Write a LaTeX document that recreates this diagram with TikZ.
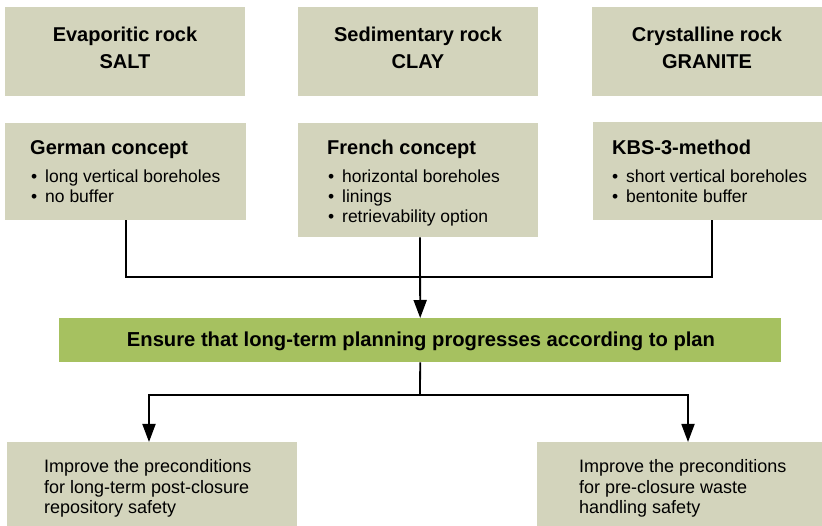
\documentclass[tikz,border=0pt]{standalone}
\usepackage{fontspec}
\setmainfont{Liberation Sans}
\usetikzlibrary{arrows.meta}
\definecolor{boxgray}{HTML}{D3D4BC}
\definecolor{boxgreen}{HTML}{A6C160}
\begin{document}
\begin{tikzpicture}[x=1pt,y=-1pt,
  box/.style={fill=boxgray, draw=none, inner sep=0pt, anchor=north west},
  goalbox/.style={fill=boxgreen, draw=none, inner sep=0pt, anchor=north west},
  title/.style={font=\fontsize{20}{27}\selectfont\bfseries, align=center, anchor=base, inner sep=0pt},
  head/.style={font=\fontsize{20}{24}\selectfont\bfseries, anchor=base west, inner sep=0pt},
  item/.style={font=\fontsize{17.5}{20}\selectfont, anchor=base west, inner sep=0pt},
  plain/.style={font=\fontsize{18}{21}\selectfont, anchor=base west, inner sep=0pt},
  link/.style={line width=1.8pt, black},
  arr/.style={link, -{Triangle[length=18pt,width=13pt]}}]
\useasboundingbox (0,0) rectangle (822,526);
\newcommand{\bul}{\makebox[14pt][l]{•}}
% top row
\node[box, minimum width=240pt, minimum height=89pt] (r1) at (5,7) {};
\node[box, minimum width=240pt, minimum height=89pt] (r2) at (298,7) {};
\node[box, minimum width=230pt, minimum height=89pt] (r3) at (592,7) {};
\node[title] (r1a) at (125,42) {Evaporitic rock};
\node[title] (r1b) at (125,69) {SALT};
\node[title] (r2a) at (418,42) {Sedimentary rock};
\node[title] (r2b) at (418,69) {CLAY};
\node[title] (r3a) at (707,42) {Crystalline rock};
\node[title] (r3b) at (707,69) {GRANITE};
% second row
\node[box, minimum width=241pt, minimum height=97pt] (g1) at (5,123) {};
\node[box, minimum width=240pt, minimum height=114pt] (g2) at (298,123) {};
\node[box, minimum width=229pt, minimum height=98pt] (g3) at (593,122) {};
\node[head] (g1h) at (30,155) {German concept};
\node[item] (g1i) at (31,183) {\bul long vertical boreholes};
\node[item] (g1j) at (31,203) {\bul no buffer};
\node[head] (g2h) at (327,155) {French concept};
\node[item] (g2i) at (328,183) {\bul horizontal boreholes};
\node[item] (g2j) at (328,203) {\bul linings};
\node[item] (g2k) at (328,223) {\bul retrievability option};
\node[head] (g3h) at (612,155) {KBS-3-method};
\node[item] (g3i) at (612,183) {\bul short vertical boreholes};
\node[item] (g3j) at (612,203) {\bul bentonite buffer};
% goal
\node[goalbox, minimum width=722pt, minimum height=44pt] (goal) at (59,318) {};
\node[title, font=\fontsize{20.2}{24}\selectfont\bfseries] (goalt) at (421,347) {Ensure that long-term planning progresses according to plan};
% bottom row
\node[box, minimum width=290pt, minimum height=84pt] (b1) at (7,442) {};
\node[box, minimum width=285pt, minimum height=84pt] (b2) at (537,442) {};
\node[plain] (b1a) at (44,472) {Improve the preconditions};
\node[plain] (b1b) at (44,493) {for long-term post-closure};
\node[plain] (b1c) at (44,513) {repository safety};
\node[plain] (b2a) at (579,472) {Improve the preconditions};
\node[plain] (b2b) at (579,493) {for pre-closure waste};
\node[plain] (b2c) at (579,513) {handling safety};
% connectors
\coordinate (j) at (420,277);
\coordinate (k) at (420,395);
\coordinate (g3x) at (712,220);
\coordinate (b1x) at (149,442);
\coordinate (b2x) at (688,442);
\draw[link] (g1.south) |- (j) -| (g3x);
\draw[arr] (g2.south -| j) -- (goal.north);
\draw[link] (goal.south) -- (k);
\draw[arr] (k) -| (b1x);
\draw[arr] (k) -| (b2x);
\end{tikzpicture}
\end{document}
